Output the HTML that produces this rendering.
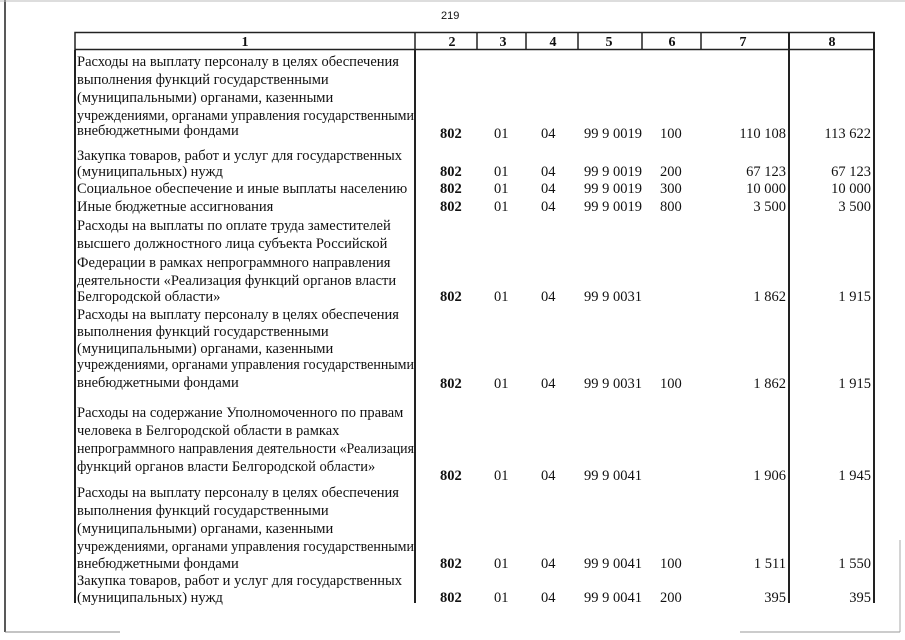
<!DOCTYPE html><html><head><meta charset="utf-8"><style>body{margin:0;background:#fff}svg{display:block}text{font-family:"Liberation Serif",serif;font-size:14.5px;fill:#111}.b{font-weight:bold}.h{font-weight:bold;font-size:14px}</style></head><body>
<svg width="905" height="640" viewBox="0 0 905 640" xmlns="http://www.w3.org/2000/svg">
<g stroke="#222" fill="none">
<line x1="5" y1="0" x2="5" y2="632" stroke-width="1.5"/>
<line x1="5" y1="632" x2="120" y2="632" stroke="#888"/>
<line x1="900" y1="540" x2="900" y2="632" stroke="#aaa"/>
<line x1="740" y1="632" x2="900" y2="632" stroke="#999"/>
<line x1="0" y1="1" x2="905" y2="1" stroke="#bbb"/>
<rect x="75" y="32.5" width="799" height="17" stroke-width="1.5"/>
<line x1="415" y1="32" x2="415" y2="50" stroke-width="1.5"/>
<line x1="477" y1="32" x2="477" y2="50" stroke-width="1.5"/>
<line x1="526" y1="32" x2="526" y2="50" stroke-width="1.5"/>
<line x1="578" y1="32" x2="578" y2="50" stroke-width="1.5"/>
<line x1="642" y1="32" x2="642" y2="50" stroke-width="1.5"/>
<line x1="701" y1="32" x2="701" y2="50" stroke-width="1.5"/>
<line x1="75" y1="50" x2="75" y2="603" stroke-width="2"/>
<line x1="415" y1="50" x2="415" y2="603" stroke-width="2"/>
<line x1="789" y1="32" x2="789" y2="603" stroke-width="2"/>
<line x1="874" y1="32" x2="874" y2="603" stroke-width="2"/>
</g>
<text x="441" y="19" style="font-family:'Liberation Sans',sans-serif;font-size:11px">219</text>
<g class="h" text-anchor="middle">
<text class="h" x="245" y="46">1</text><text class="h" x="452" y="46">2</text><text class="h" x="503" y="46">3</text><text class="h" x="553" y="46">4</text><text class="h" x="609" y="46">5</text><text class="h" x="672" y="46">6</text><text class="h" x="743" y="46">7</text><text class="h" x="832" y="46">8</text>
</g>
<g>
<text x="77" y="66">Расходы на выплату персоналу в целях обеспечения</text>
<text x="77" y="84">выполнения функций государственными</text>
<text x="77" y="102">(муниципальными) органами, казенными</text>
<text x="77" y="120" textLength="337" lengthAdjust="spacingAndGlyphs">учреждениями, органами управления государственными</text>
<text x="77" y="135">внебюджетными фондами</text>
<text x="77" y="160">Закупка товаров, работ и услуг для государственных</text>
<text x="77" y="176">(муниципальных) нужд</text>
<text x="77" y="193">Социальное обеспечение и иные выплаты населению</text>
<text x="77" y="211">Иные бюджетные ассигнования</text>
<text x="77" y="230">Расходы на выплаты по оплате труда заместителей</text>
<text x="77" y="248">высшего должностного лица субъекта Российской</text>
<text x="77" y="267">Федерации в рамках непрограммного направления</text>
<text x="77" y="285">деятельности «Реализация функций органов власти</text>
<text x="77" y="301">Белгородской области»</text>
<text x="77" y="319">Расходы на выплату персоналу в целях обеспечения</text>
<text x="77" y="336">выполнения функций государственными</text>
<text x="77" y="353">(муниципальными) органами, казенными</text>
<text x="77" y="369" textLength="337" lengthAdjust="spacingAndGlyphs">учреждениями, органами управления государственными</text>
<text x="77" y="387">внебюджетными фондами</text>
<text x="77" y="417">Расходы на содержание Уполномоченного по правам</text>
<text x="77" y="435">человека в Белгородской области в рамках</text>
<text x="77" y="453" textLength="337" lengthAdjust="spacingAndGlyphs">непрограммного направления деятельности «Реализация</text>
<text x="77" y="471">функций органов власти Белгородской области»</text>
<text x="77" y="497">Расходы на выплату персоналу в целях обеспечения</text>
<text x="77" y="515">выполнения функций государственными</text>
<text x="77" y="533">(муниципальными) органами, казенными</text>
<text x="77" y="551" textLength="337" lengthAdjust="spacingAndGlyphs">учреждениями, органами управления государственными</text>
<text x="77" y="568">внебюджетными фондами</text>
<text x="77" y="585">Закупка товаров, работ и услуг для государственных</text>
<text x="77" y="602">(муниципальных) нужд</text>
</g>
<g>
<text class="b" x="440" y="138">802</text><text x="494" y="138">01</text><text x="541" y="138">04</text><text x="584" y="138">99 9 0019</text><text x="660" y="138">100</text><text x="786" y="138" text-anchor="end">110 108</text><text x="871" y="138" text-anchor="end">113 622</text>
<text class="b" x="440" y="176">802</text><text x="494" y="176">01</text><text x="541" y="176">04</text><text x="584" y="176">99 9 0019</text><text x="660" y="176">200</text><text x="786" y="176" text-anchor="end">67 123</text><text x="871" y="176" text-anchor="end">67 123</text>
<text class="b" x="440" y="193">802</text><text x="494" y="193">01</text><text x="541" y="193">04</text><text x="584" y="193">99 9 0019</text><text x="660" y="193">300</text><text x="786" y="193" text-anchor="end">10 000</text><text x="871" y="193" text-anchor="end">10 000</text>
<text class="b" x="440" y="211">802</text><text x="494" y="211">01</text><text x="541" y="211">04</text><text x="584" y="211">99 9 0019</text><text x="660" y="211">800</text><text x="786" y="211" text-anchor="end">3 500</text><text x="871" y="211" text-anchor="end">3 500</text>
<text class="b" x="440" y="301">802</text><text x="494" y="301">01</text><text x="541" y="301">04</text><text x="584" y="301">99 9 0031</text><text x="786" y="301" text-anchor="end">1 862</text><text x="871" y="301" text-anchor="end">1 915</text>
<text class="b" x="440" y="388">802</text><text x="494" y="388">01</text><text x="541" y="388">04</text><text x="584" y="388">99 9 0031</text><text x="660" y="388">100</text><text x="786" y="388" text-anchor="end">1 862</text><text x="871" y="388" text-anchor="end">1 915</text>
<text class="b" x="440" y="480">802</text><text x="494" y="480">01</text><text x="541" y="480">04</text><text x="584" y="480">99 9 0041</text><text x="786" y="480" text-anchor="end">1 906</text><text x="871" y="480" text-anchor="end">1 945</text>
<text class="b" x="440" y="568">802</text><text x="494" y="568">01</text><text x="541" y="568">04</text><text x="584" y="568">99 9 0041</text><text x="660" y="568">100</text><text x="786" y="568" text-anchor="end">1 511</text><text x="871" y="568" text-anchor="end">1 550</text>
<text class="b" x="440" y="602">802</text><text x="494" y="602">01</text><text x="541" y="602">04</text><text x="584" y="602">99 9 0041</text><text x="660" y="602">200</text><text x="786" y="602" text-anchor="end">395</text><text x="871" y="602" text-anchor="end">395</text>
</g>
</svg></body></html>
